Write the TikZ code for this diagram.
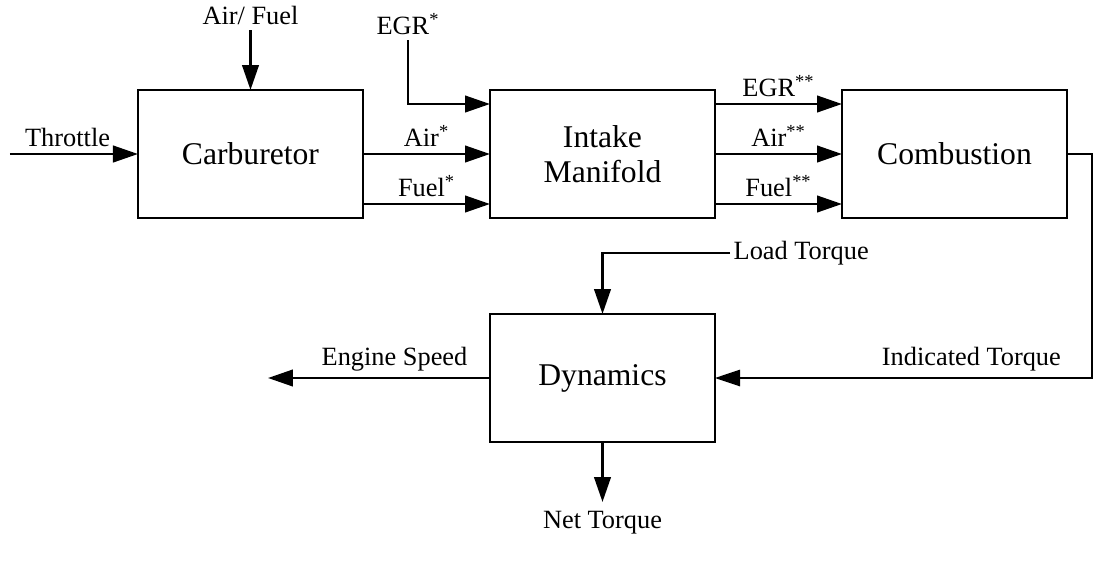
\documentclass[tikz,border=0pt]{standalone}
\usepackage{fontspec}
\setmainfont{Liberation Serif}
\usetikzlibrary{arrows.meta,positioning,calc}
\tikzset{
  blockbox/.style={draw, line width=1.4pt, outer sep=0pt, minimum width=4.5cm,
    minimum height=2.56cm, align=center, font=\fontsize{18}{20}\selectfont},
  sigarr/.style={-{Triangle[length=0.5cm,width=0.33cm]}, line width=1.5pt},
  thinarr/.style={-{Triangle[length=0.5cm,width=0.33cm]}, line width=0.7pt},
  siglbl/.style={font=\fontsize{15}{17}\selectfont},
}

\begin{document}
\begin{tikzpicture}
  \useasboundingbox (-5.01,-8.14) rectangle (16.95,3.08);
  % blocks
  \node[blockbox] (carb) at (0,0) {Carburetor};
  \node[blockbox, right=2.54cm of carb] (intake) {Intake\\Manifold};
  \node[blockbox, right=2.54cm of intake] (comb) {Combustion};
  \node[blockbox, below=1.92cm of intake] (dyn) {Dynamics};
  % free ends
  \coordinate (thr) at ($(carb.west)+(-2.56,0)$);
  \coordinate (af) at ($(carb.north)+(0,1.2)$);
  \coordinate (egr) at ($(intake.west)+(-1.64,2.28)$);
  \coordinate (lt) at ($(dyn.north)+(2.55,1.22)$);
  \coordinate (spd) at ($(dyn.west)+(-4.44,0)$);
  \coordinate (net) at ($(dyn.south)+(0,-1.2)$);
  % inputs
  \draw[sigarr] (thr) -- node[siglbl, above, pos=0.45] {Throttle} (carb.west);
  \draw[sigarr] (af) node[siglbl, above=-1pt] {Air/ Fuel} -- (carb.north);
  \draw[sigarr] (egr) node[siglbl, above=-1pt] {EGR\textsuperscript{*}}
    |- ($(intake.west)+(0,1.0)$);
  % carburetor -> manifold
  \draw[sigarr] (carb.east) -- node[siglbl, above] {Air\textsuperscript{*}} (intake.west);
  \draw[sigarr] ($(carb.east)+(0,-1.0)$) -- node[siglbl, above] {Fuel\textsuperscript{*}}
    ($(intake.west)+(0,-1.0)$);
  % manifold -> combustion
  \draw[sigarr] ($(intake.east)+(0,1.0)$) -- node[siglbl, above] {EGR\textsuperscript{**}}
    ($(comb.west)+(0,1.0)$);
  \draw[sigarr] (intake.east) -- node[siglbl, above] {Air\textsuperscript{**}} (comb.west);
  \draw[sigarr] ($(intake.east)+(0,-1.0)$) -- node[siglbl, above] {Fuel\textsuperscript{**}}
    ($(comb.west)+(0,-1.0)$);
  % torque loop
  \draw[thinarr] (comb.east) -- ++(0.5,0) |- node[siglbl, above, pos=0.66] {Indicated Torque}
    (dyn.east);
  \draw[sigarr] (lt) node[siglbl, right=-2pt] {Load Torque} -| (dyn.north);
  % outputs
  \draw[sigarr] (dyn.west) -- node[siglbl, above, pos=0.43] {Engine Speed} (spd);
  \draw[sigarr] (dyn.south) -- (net) node[siglbl, below=1pt] {Net Torque};
\end{tikzpicture}
\end{document}
